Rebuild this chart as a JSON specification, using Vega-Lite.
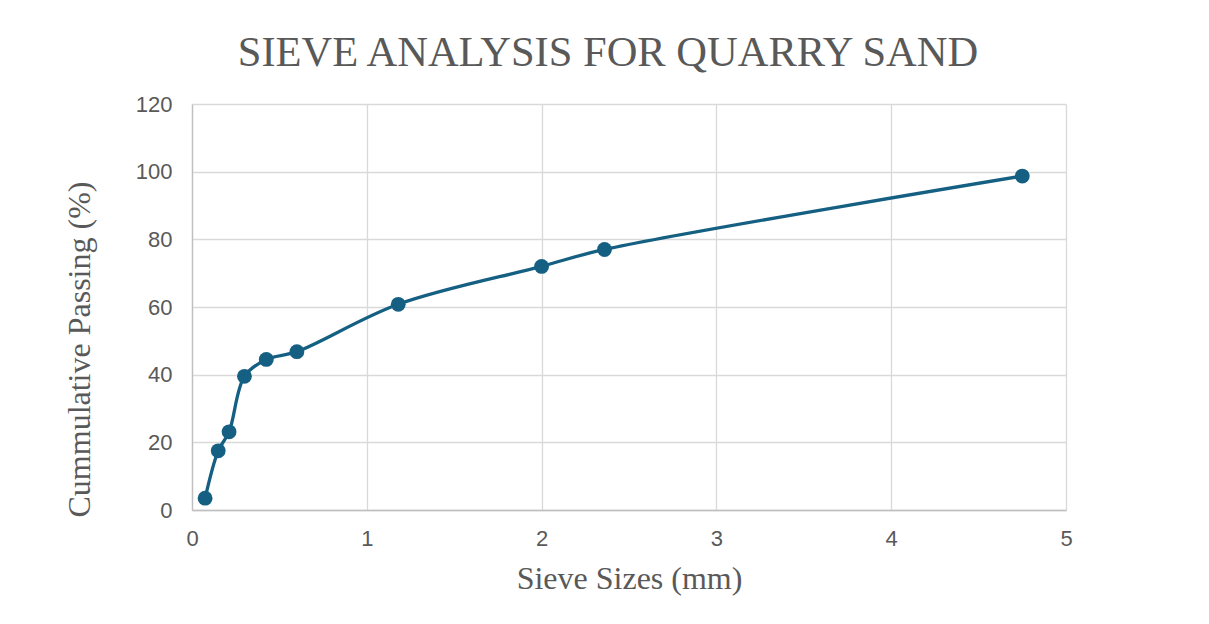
{
  "$schema": "https://vega.github.io/schema/vega-lite/v6.json",
  "autosize": {"type": "none"},
  "padding": {"left": 192, "top": 104, "right": 143, "bottom": 114},
  "width": 874,
  "height": 406,
  "background": "white",
  "title": {
    "text": "SIEVE ANALYSIS FOR QUARRY SAND",
    "font": "Liberation Serif",
    "fontSize": 42.5,
    "fontWeight": "normal",
    "color": "#595959",
    "anchor": "middle",
    "baseline": "alphabetic",
    "dx": -21,
    "dy": 41,
    "offset": 26
  },
  "config": {
    "view": {"stroke": null},
    "axis": {
      "gridColor": "#d9d9d9",
      "gridWidth": 1.3,
      "domainColor": "#bfbfbf",
      "domainWidth": 1.3,
      "ticks": false,
      "labelFlush": false,
      "labelFont": "Liberation Sans",
      "labelFontSize": 22,
      "labelColor": "#595959",
      "titleFont": "Liberation Serif",
      "titleFontSize": 32,
      "titleFontWeight": "normal",
      "titleColor": "#595959"
    }
  },
  "data": {
    "values": [
      {"size": 0.075, "passing": 3.5},
      {"size": 0.15, "passing": 17.5},
      {"size": 0.212, "passing": 23.1},
      {"size": 0.3, "passing": 39.5},
      {"size": 0.425, "passing": 44.5},
      {"size": 0.6, "passing": 46.8},
      {"size": 1.18, "passing": 60.8},
      {"size": 2.0, "passing": 72.0},
      {"size": 2.36, "passing": 77.0},
      {"size": 4.75, "passing": 98.7}
    ]
  },
  "encoding": {
    "x": {
      "field": "size",
      "type": "quantitative",
      "scale": {"domain": [0, 5], "nice": false},
      "axis": {"values": [0, 1, 2, 3, 4, 5], "title": "Sieve Sizes (mm)", "labelPadding": 18, "titlePadding": 14, "grid": true}
    },
    "y": {
      "field": "passing",
      "type": "quantitative",
      "scale": {"domain": [0, 120], "nice": false},
      "axis": {"values": [0, 20, 40, 60, 80, 100, 120], "title": "Cummulative Passing (%)", "labelPadding": 20, "titlePadding": 39, "titleY": 245, "grid": true}
    }
  },
  "layer": [
    {"mark": {"type": "line", "interpolate": "catmull-rom", "color": "#156082", "strokeWidth": 3.3}},
    {"mark": {"type": "point", "shape": "circle", "filled": true, "opacity": 1, "size": 220, "color": "#156082"}}
  ]
}
